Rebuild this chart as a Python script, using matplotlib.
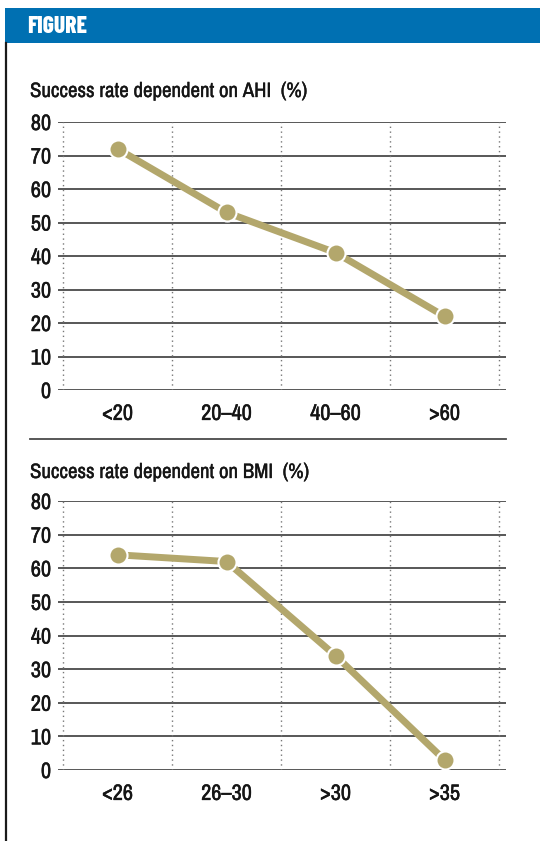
from matplotlib import pyplot as plt
from matplotlib.patches import Rectangle
from matplotlib.lines import Line2D
import matplotlib.patheffects as pe
import numpy as np

plt.rcParams['font.family'] = ['Archivo Narrow', 'DejaVu Sans']

# data
ahi_labels = ['<20', '20\u201340', '40\u201360', '>60']
ahi_values = [72, 53, 41, 22]
bmi_labels = ['<26', '26\u201330', '>30', '>35']
bmi_values = [64, 62, 34, 3]
y_ticks = [0, 10, 20, 30, 40, 50, 60, 70, 80]

line_color = '#B3A76C'
grid_color = '#4a4a4a'
text_color = '#151515'
W, H = 540, 841

# slightly heavier text, the narrow font only has a regular weight
heavy = [pe.withStroke(linewidth=0.35, foreground=text_color)]

fig = plt.figure(figsize=(W / 100, H / 100), dpi=100)


def px_axes(x0, y_top, x1, y_bot):
    return fig.add_axes([x0 / W, 1 - y_bot / H, (x1 - x0) / W, (y_bot - y_top) / H])


def draw_panel(ax, labels, values):
    x = np.arange(len(labels)) + 0.5
    ax.set_xlim(-0.046, 4.064)
    ax.set_ylim(0, 80)
    for s in ax.spines.values():
        s.set_visible(False)
    ax.set_yticks(y_ticks)
    ax.grid(axis='y', color=grid_color, lw=1.3)
    ax.set_axisbelow(True)
    ax.vlines(np.arange(5), 0, 80, colors='#777777', linestyles=(0, (1, 2.5)), lw=1)
    ax.set_xticks(x)
    ax.set_xticklabels(labels, fontsize=16, color=text_color)
    ax.tick_params(axis='x', length=0, pad=10)
    ax.tick_params(axis='y', length=0, pad=5, labelsize=16, labelcolor=text_color)
    for t in ax.get_xticklabels() + ax.get_yticklabels():
        t.set_path_effects(heavy)
    ax.plot(x, values, color=line_color, lw=5, solid_capstyle='round', zorder=3)
    ax.plot(x, values, 'o', color=line_color, ms=13, mec='white', mew=1.5,
            zorder=4, clip_on=False)


ax1 = px_axes(58, 122, 506, 390)
draw_panel(ax1, ahi_labels, ahi_values)

ax2 = px_axes(58, 501, 506, 770)
draw_panel(ax2, bmi_labels, bmi_values)

# header bar
fig.patches.append(Rectangle((5 / W, 1 - 43 / H), (W - 5) / W, 35 / H,
                             transform=fig.transFigure, color='#0070B2', lw=0))
fig.text(27 / W, 1 - 33 / H, 'FIGURE', color='white', fontsize=17,
         family=['Barlow Condensed', 'DejaVu Sans'], fontweight='heavy',
         va='baseline', ha='left')
# left border
fig.lines.append(Line2D([6 / W, 6 / W], [1 - 43 / H, 0], transform=fig.transFigure,
                        color='#1a1a1a', lw=1.6))
# separator
fig.lines.append(Line2D([30 / W, 506 / W], [1 - 439 / H, 1 - 439 / H],
                        transform=fig.transFigure, color=grid_color, lw=1.3))

for y, title in [(97, 'Success rate dependent on AHI  (%)'),
                 (478, 'Success rate dependent on BMI  (%)')]:
    fig.text(30 / W, 1 - y / H, title, fontsize=15, va='baseline', ha='left',
             color=text_color, path_effects=[pe.withStroke(linewidth=0.25, foreground=text_color)])

plt.savefig('out.png', dpi=100)
